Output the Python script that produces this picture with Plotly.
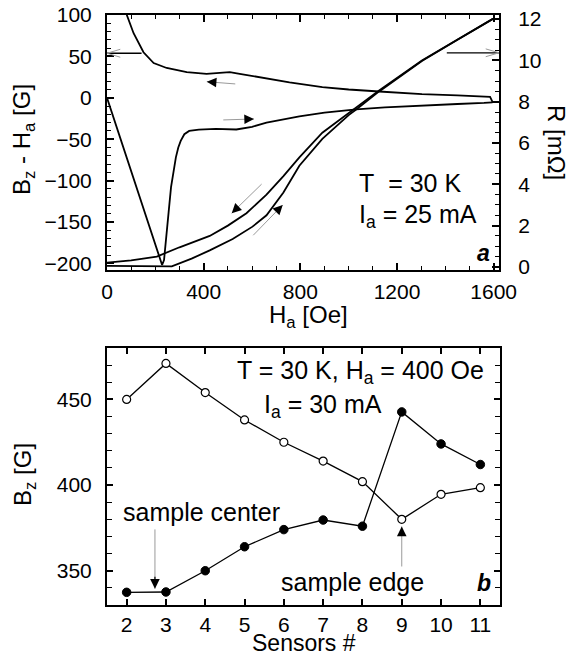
import plotly.graph_objects as go

# ---------------- Panel a data ----------------
# Bz - Ha, increasing field branch (V-shaped curve)
h_bz_up = [0, 50, 100, 150, 200, 228, 236, 245, 255, 265, 275, 285, 295, 305, 320, 340, 380,
           450, 535, 600, 660, 730, 796, 900, 1031, 1150, 1303, 1450, 1560, 1595]
bz_up = [0, -44, -88, -133, -177, -202, -196, -172, -138, -108, -88, -72, -60, -52, -44, -40, -38.5,
         -37.5, -38.3, -35, -30, -26, -22.5, -18, -14, -11.5, -9, -7.5, -6.2, -5.5]

# Bz - Ha, decreasing field branch (upper curve)
h_bz_dn = [60, 82, 110, 151, 193, 247, 330, 412, 480, 508, 549, 650, 755, 891, 1000, 1126, 1303,
           1450, 1560, 1585, 1595]
bz_dn = [125, 100, 78, 55, 42, 36, 31, 29, 30.5, 31, 29, 24, 18.5, 13, 10, 7.6, 4.5,
         3, 1.6, 1.0, -5]

# R, decreasing field branch
h_r_dn = [0, 100, 206, 300, 425, 500, 577, 660, 730, 796, 891, 1031, 1126, 1303, 1450, 1595]
r_dn = [0.21, 0.32, 0.5, 0.95, 1.5, 2.0, 2.6, 3.5, 4.4, 5.3, 6.5, 7.7, 8.55, 10.0, 11.0, 12.0]

# R, increasing field branch
h_r_up = [0, 150, 268, 350, 425, 520, 602, 660, 730, 796, 891, 1000, 1031, 1126, 1303, 1450, 1595]
r_up = [0.05, 0.03, 0.03, 0.4, 0.8, 1.35, 1.95, 2.5, 3.6, 4.9, 6.2, 7.35, 7.62, 8.5, 9.97, 11.0, 12.0]

# ---------------- Panel b data ----------------
sensors = [2, 3, 4, 5, 6, 7, 8, 9, 10, 11]
bz_open = [450, 471, 454, 438, 425, 414, 402, 380, 394.6, 398.5]
bz_filled = [337.4, 337.6, 350, 364, 374, 379.6, 376, 442.7, 424, 412]

FONT = "Liberation Sans, Arial, sans-serif"
TICKF = dict(family=FONT, size=21, color="black")
ANNF = dict(family=FONT, size=25, color="black")
TITLEF = dict(family=FONT, size=24, color="black")

fig = go.Figure()

line_k = dict(color="black", width=1.8)
fig.add_trace(go.Scatter(x=h_bz_up, y=bz_up, mode="lines", line=line_k, xaxis="x", yaxis="y"))
fig.add_trace(go.Scatter(x=h_bz_dn, y=bz_dn, mode="lines", line=line_k, xaxis="x", yaxis="y"))
fig.add_trace(go.Scatter(x=h_r_dn, y=r_dn, mode="lines", line=line_k, xaxis="x", yaxis="y2"))
fig.add_trace(go.Scatter(x=h_r_up, y=r_up, mode="lines", line=line_k, xaxis="x", yaxis="y2"))

fig.add_trace(go.Scatter(x=sensors, y=bz_open, mode="lines+markers",
                         line=dict(color="black", width=1.3),
                         marker=dict(symbol="circle", size=8, color="white",
                                     line=dict(color="black", width=1.2)),
                         xaxis="x3", yaxis="y3"))
fig.add_trace(go.Scatter(x=sensors, y=bz_filled, mode="lines+markers",
                         line=dict(color="black", width=1.3),
                         marker=dict(symbol="circle", size=8.5, color="black",
                                     line=dict(color="black", width=1)),
                         xaxis="x3", yaxis="y3"))

axis_common = dict(showline=True, linecolor="black", linewidth=2, showgrid=False, zeroline=False,
                   ticks="inside", tickcolor="black", tickwidth=1.5, tickfont=TICKF,
                   automargin=False)

fig.update_layout(
    width=574, height=656, margin=dict(l=0, r=0, t=0, b=0, autoexpand=False),
    paper_bgcolor="white", plot_bgcolor="rgba(0,0,0,0)", showlegend=False,
    xaxis=dict(domain=[107/574, 499/574], range=[0, 1622], dtick=400, ticklen=7, mirror="ticks",
               minor=dict(dtick=100, ticklen=4, ticks="inside", tickcolor="black", tickwidth=1.2),
               anchor="y", ticklabelstandoff=2, **axis_common),
    yaxis=dict(domain=[1-270/656, 1-15/656], range=[-208, 100], dtick=50, ticklen=7, mirror=False,
               minor=dict(dtick=10, ticklen=4, ticks="inside", tickcolor="black", tickwidth=1.2),
               anchor="x", ticklabelstandoff=9, **axis_common),
    yaxis2=dict(overlaying="y", side="right", range=[-0.15, 12.2], dtick=2, ticklen=7,
                minor=dict(dtick=0.5, ticklen=4, ticks="inside", tickcolor="black", tickwidth=1.2),
                anchor="x", ticklabelstandoff=13, **axis_common),
    xaxis3=dict(domain=[107/574, 500/574], range=[1.5, 11.5], dtick=1, ticklen=6, mirror="ticks",
                anchor="y3", ticklabelstandoff=0, **axis_common),
    yaxis3=dict(domain=[1-605/656, 1-348/656], range=[330, 480], dtick=50, ticklen=6, mirror="ticks",
                minor=dict(dtick=10, ticklen=5, ticks="inside", tickcolor="black", tickwidth=1.2),
                anchor="x3", ticklabelstandoff=9, **axis_common),
)

ann = []
shapes = []

def paper_text(text, px, py, font=ANNF, xanchor="left", yanchor="middle", angle=0):
    ann.append(dict(text=text, x=px/574, y=1-py/656, xref="paper", yref="paper", showarrow=False,
                    xanchor=xanchor, yanchor=yanchor, font=font, textangle=angle))

# axis titles
paper_text("B<sub>z</sub> - H<sub>a</sub> [G]", 24, 140, font=TITLEF, xanchor="center", angle=-90)
paper_text("R [mΩ]", 556, 142, font=TITLEF, xanchor="center", angle=90)
paper_text("H<sub>a</sub> [Oe]", 308, 316, font=TITLEF, xanchor="center")
paper_text("B<sub>z</sub> [G]", 24, 475, font=TITLEF, xanchor="center", angle=-90)
paper_text("Sensors #", 304, 643, font=dict(family=FONT, size=23, color="black"), xanchor="center")

# panel a texts
paper_text("T\u00a0\u00a0= 30 K", 357, 183)
paper_text("I<sub>a</sub> = 25 mA", 357, 216)
paper_text("<b><i>a</i></b>", 492, 253, font=dict(family=FONT, size=23, color="black"), xanchor="right")

# panel b texts
paper_text("T = 30 K, H<sub>a</sub> = 400 Oe", 235, 372)
paper_text("I<sub>a</sub> = 30 mA", 262, 406)
paper_text("sample center", 121, 512)
paper_text("sample edge", 279, 582)
paper_text("<b><i>b</i></b>", 493, 583, font=dict(family=FONT, size=23, color="black"), xanchor="right")

GREY = "#9a9a9a"

def split_arrow(x0, y0, x1, y1, xr, yr):
    # grey shaft from tail (x0,y0) to head (x1,y1), black head at (x1,y1)
    ann.append(dict(x=x1, y=y1, ax=x0, ay=y0, xref=xr, yref=yr, axref=xr, ayref=yr, text="",
                    showarrow=True, arrowhead=0, arrowwidth=1, arrowcolor=GREY))
    f = 0.22
    ann.append(dict(x=x1, y=y1, ax=x1 - f*(x1-x0), ay=y1 - f*(y1-y0), xref=xr, yref=yr,
                    axref=xr, ayref=yr, text="", showarrow=True, arrowhead=2, arrowsize=1.6,
                    arrowwidth=1.2, arrowcolor="black"))

split_arrow(537, 16.6, 413, 19.4, "x", "y")
split_arrow(475, -26.8, 608, -25.6, "x", "y")
split_arrow(646, 4.08, 516, 2.6, "x", "y2")
split_arrow(599, 1.46, 727, 3.0, "x", "y2")

# axis indicator arrows (black shaft, open grey chevron)
shapes.append(dict(type="line", xref="x", yref="y", x0=0, x1=143, y0=53.8, y1=53.8,
                   line=dict(color="black", width=1.3)))
shapes.append(dict(type="line", xref="x", yref="y", x0=0, x1=55, y0=53.8, y1=58.6,
                   line=dict(color=GREY, width=1)))
shapes.append(dict(type="line", xref="x", yref="y", x0=0, x1=55, y0=53.8, y1=49.0,
                   line=dict(color=GREY, width=1)))
shapes.append(dict(type="line", xref="x", yref="y2", x0=1406, x1=1622, y0=10.37, y1=10.37,
                   line=dict(color="black", width=1.3)))
shapes.append(dict(type="line", xref="x", yref="y2", x0=1622, x1=1567, y0=10.37, y1=10.56,
                   line=dict(color=GREY, width=1)))
shapes.append(dict(type="line", xref="x", yref="y2", x0=1622, x1=1567, y0=10.37, y1=10.18,
                   line=dict(color=GREY, width=1)))

# panel b arrows
split_arrow(2.72, 375, 2.72, 339.5, "x3", "y3")
split_arrow(9.0, 351.6, 9.0, 375.8, "x3", "y3")

fig.update_layout(annotations=ann, shapes=shapes)
fig.write_html("out.html", config={"displayModeBar": False},
               post_script="document.body.style.margin='0';document.body.style.overflow='hidden';")
